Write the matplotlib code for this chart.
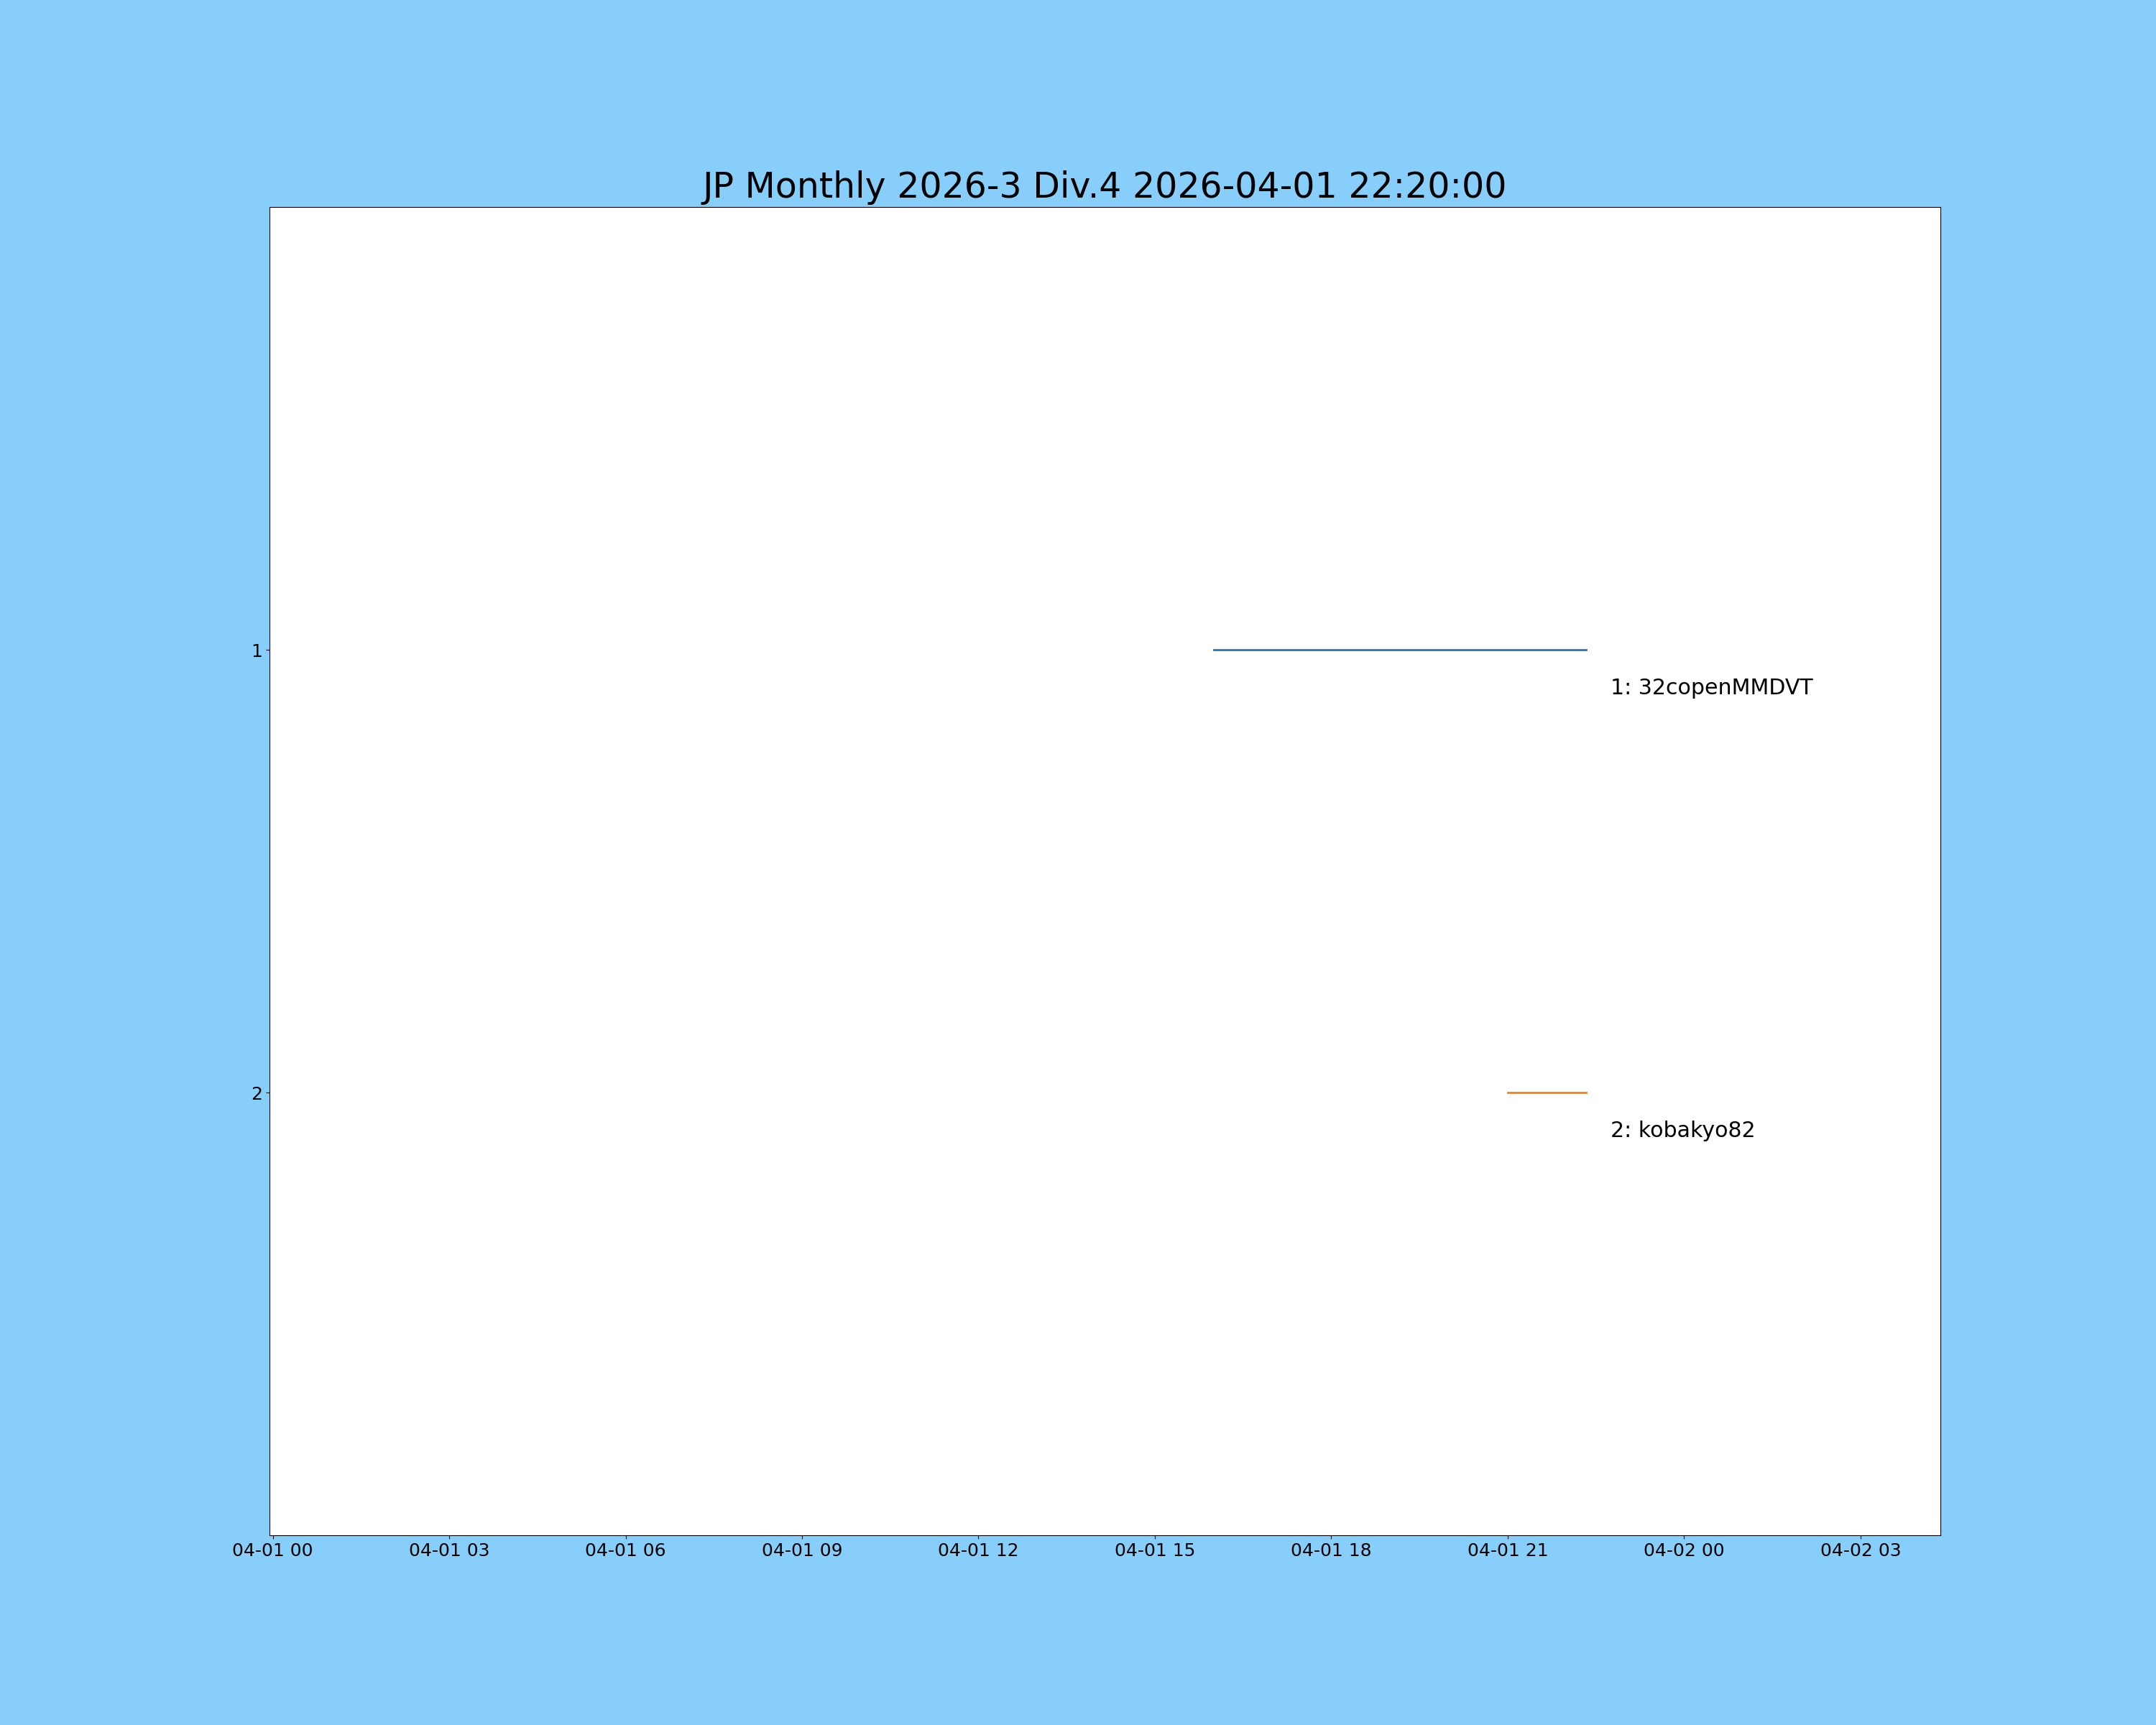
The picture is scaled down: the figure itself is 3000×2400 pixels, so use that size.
import matplotlib
matplotlib.use("Agg")
import matplotlib.pyplot as plt
import matplotlib.dates as mdates
from datetime import datetime, timedelta

# ---- data ----
title_text = "JP Monthly 2026-3 Div.4 2026-04-01 22:20:00"
players = ["32copenMMDVT", "kobakyo82"]
times_p1 = ["2026-04-01 16:00", "2026-04-01 17:00", "2026-04-01 18:00", "2026-04-01 19:00",
            "2026-04-01 20:00", "2026-04-01 21:00", "2026-04-01 22:00", "2026-04-01 22:20"]
ranks_p1 = [1, 1, 1, 1, 1, 1, 1, 1]
times_p2 = ["2026-04-01 21:00", "2026-04-01 22:00", "2026-04-01 22:20"]
ranks_p2 = [2, 2, 2]
colors = ["#1f77b4", "#ff7f0e"]
y_ticks = [1, 2]
x_limits = ["2026-03-31 23:56:40", "2026-04-02 04:21:30"]
y_limits = [3, 0]

fmt = "%Y-%m-%d %H:%M"
series = [(times_p1, ranks_p1), (times_p2, ranks_p2)]

fig = plt.figure(figsize=(30, 24), dpi=100, facecolor="#87CEFA")
ax = fig.add_subplot(111)
ax.set_facecolor("white")

for i, (name, (ts, rs)) in enumerate(zip(players, series)):
    xs = [datetime.strptime(t, fmt) for t in ts]
    ax.plot(xs, rs, color=colors[i], linewidth=2)
    ax.text(xs[-1] + timedelta(minutes=25), rs[-1] + 0.1, f"{rs[-1]}: {name}",
            fontsize=21.6, family="DejaVu Sans")

ax.set_xlim(datetime.strptime(x_limits[0], "%Y-%m-%d %H:%M:%S"),
            datetime.strptime(x_limits[1], "%Y-%m-%d %H:%M:%S"))
ax.set_ylim(*y_limits)
ax.set_yticks(y_ticks)
ax.xaxis.set_major_locator(mdates.HourLocator(byhour=range(0, 24, 3)))
ax.xaxis.set_major_formatter(mdates.DateFormatter("%m-%d %H"))
ax.tick_params(labelsize=18)
ax.set_title(title_text, fontsize=35.3, pad=9.5)

fig.savefig("out.png", dpi=100, facecolor=fig.get_facecolor())
